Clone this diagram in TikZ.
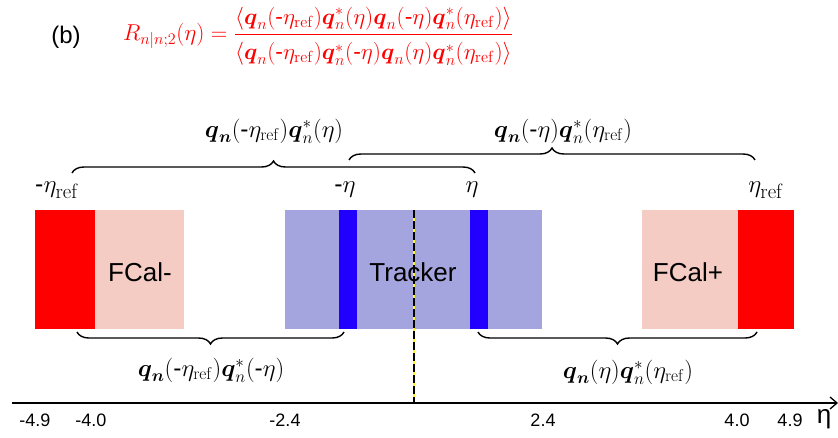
\RequirePackage{fix-cm}
\documentclass[tikz,border=0pt]{standalone}
\usepackage{amsmath,amssymb}
\usepackage[no-math]{fontspec}
\setmainfont{Liberation Sans}
\usepackage{tikz}
\usetikzlibrary{arrows.meta,positioning,calc,decorations.pathreplacing}
\definecolor{calred}{RGB}{255,0,0}
\definecolor{calpink}{RGB}{244,204,196}
\definecolor{trklav}{RGB}{164,164,222}
\definecolor{etablue}{RGB}{34,0,255}
\newcommand{\hy}{\text{-}}
\newcommand{\er}{\eta_{\mathrm{ref}}}
\newcommand{\qb}{\boldsymbol{q}_{\boldsymbol{n}}}
\newcommand{\qf}{\boldsymbol{q}_{n}}
\newcommand{\qs}{\boldsymbol{q}^{*}_{n}}
\tikzset{
  detlab/.style={font=\fontsize{26}{30}\selectfont},
  ticklab/.style={font=\fontsize{18}{22}\selectfont},
  mlab/.style={font=\fontsize{24.88}{30}\selectfont},
  brlab/.style={font=\fontsize{24.5}{30}\selectfont},
  brc/.style={decorate, decoration={brace, amplitude=12pt}, line width=1.4pt},
  axl/.style={-{Straight Barb[length=7pt, width=12pt]}, line width=1.3pt},
}

\begin{document}
\begin{tikzpicture}[x=1pt,y=-1pt]
\useasboundingbox (0,0) rectangle (838,437);
% title and ratio
\node[font=\fontsize{24}{28}\selectfont] (lbl) at (66,37) {(b)};
\node[text=calred, inner sep=0pt, font=\fontsize{23}{28}\selectfont] (ratio) at (318,36)
  {$R_{n|n;2}(\eta)=\dfrac{\rule[-7pt]{0pt}{7pt}\langle\qf(\hy\er)\qs(\eta)\qf(\hy\eta)\qs(\er)\rangle}
                          {\rule{0pt}{22pt}\langle\qf(\hy\er)\qs(\hy\eta)\qf(\eta)\qs(\er)\rangle}$};
% detectors
\fill[calred]  (35,210) rectangle (95,329);
\fill[calpink] (95,210) rectangle (184,329);
\fill[trklav]  (285,210) rectangle (542,329);
\fill[etablue] (339,210) rectangle (357,329);
\fill[etablue] (470,210) rectangle (488,329);
\fill[calpink] (642,210) rectangle (738,329);
\fill[calred]  (738,210) rectangle (794,329);
\node[detlab] (fcm) at (140,272) {FCal-};
\node[detlab] (fcp) at (688,272) {FCal+};
% centre line
\coordinate (ctop) at (414,210);
\coordinate (cbot) at (414,403);
\draw[yellow!80!white, line width=1.6pt] (ctop) -- (cbot);
\draw[black, line width=1.6pt, dash pattern=on 8pt off 3pt] (ctop) -- (cbot);
\node[detlab] (trk) at (413,272) {Tracker};
% eta markers
\node[mlab] (mref) at (57,190) {$\hy\er$};
\node[mlab] (meta) at (345,190) {$\hy\eta$};
\node[mlab] (peta) at (472,190) {$\eta$};
\node[mlab] (pref) at (766,190) {$\er$};
% braces
\coordinate (b1a) at (72,173);  \coordinate (b1b) at (475,173);
\coordinate (b2a) at (349,160); \coordinate (b2b) at (755,160);
\coordinate (b3a) at (344,332); \coordinate (b3b) at (77,332);
\coordinate (b4a) at (757,332); \coordinate (b4b) at (478,332);
\draw[brc] (b1a) -- (b1b);
\draw[brc] (b2a) -- (b2b);
\draw[brc] (b3a) -- (b3b);
\draw[brc] (b4a) -- (b4b);
\node[brlab] (l1) at (274,131) {$\qb(\hy\er)\qs(\eta)$};
\node[brlab] (l2) at (563,131) {$\qb(\hy\eta)\qs(\er)$};
\node[brlab] (l3) at (211,370) {$\qb(\hy\er)\qs(\hy\eta)$};
\node[brlab] (l4) at (628,372) {$\qb(\eta)\qs(\er)$};
% eta axis
\coordinate (ax0) at (12,403);
\coordinate (ax1) at (838,403);
\draw[axl] (ax0) -- (ax1);
\foreach \xp/\lab [count=\i] in {35/-4.9, 91/-4.0, 285/-2.4, 543/2.4, 737/4.0, 790/4.9}
  \node[ticklab] (tick\i) at (\xp,420) {\lab};
\node[font=\fontsize{26}{30}\selectfont] (etax) at (824,419) {η};
\end{tikzpicture}
\end{document}
